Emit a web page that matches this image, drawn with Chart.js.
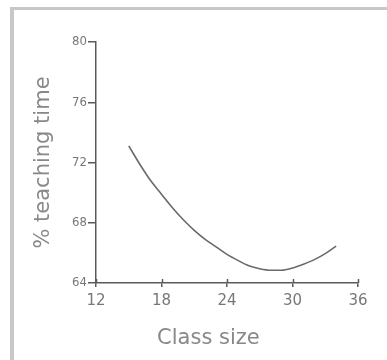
<!DOCTYPE html>
<html>
<head>
<meta charset="utf-8">
<title>% teaching time by class size</title>
<script src="https://cdn.jsdelivr.net/npm/chart.js@4/dist/chart.umd.min.js"></script>
<style>
  html, body { margin: 0; padding: 0; background: #fff; }
  #wrap { position: relative; width: 387px; height: 360px; overflow: hidden; }
  #chart { position: absolute; left: 0; top: 0; }
  #frame {
    position: absolute; left: 10px; top: 7px; width: 380px; height: 360px;
    border-top: 3px solid #c8c8c8; border-left: 4px solid #c8c8c8;
    pointer-events: none;
  }
</style>
</head>
<body>
<div id="wrap">
  <canvas id="chart" width="387" height="360"></canvas>
  <div id="frame"></div>
</div>
<script>
// Fitted curve: share of time spent teaching against class size
const classSize = [15, 16, 17, 18, 19, 20, 21, 22, 23, 24, 25, 26, 27, 28, 29, 30, 31, 32, 33, 34];
const teachingTime = [73.1, 71.9, 70.8, 69.9, 69.0, 68.2, 67.5, 66.9, 66.4, 65.9, 65.5, 65.15, 64.95, 64.85, 64.85, 65.0, 65.25, 65.55, 65.95, 66.45];

const xTicks = [12, 18, 24, 30, 36];
const yTicks = [64, 68, 72, 76, 80];

const xTitle = 'Class size';
const yTitle = '% teaching time';

const axisColor = '#5a5a5a';
const labelColor = '#777777';
const titleColor = '#888888';

const points = classSize.map((x, i) => ({ x: x, y: teachingTime[i] }));

// Tick marks on the x axis cross the axis line: draw the part inside the plot
const innerTicks = {
  id: 'innerTicks',
  afterDraw(chart) {
    const ctx = chart.ctx;
    const xs = chart.scales.x;
    ctx.save();
    ctx.strokeStyle = axisColor;
    ctx.lineWidth = 1.5;
    xTicks.forEach(v => {
      const px = Math.round(xs.getPixelForValue(v)) + 0.5;
      ctx.beginPath();
      ctx.moveTo(px, xs.top);
      ctx.lineTo(px, xs.top - 4);
      ctx.stroke();
    });
    ctx.restore();
  }
};

// x axis caption, set a little left of the axis centre
const xCaption = {
  id: 'xCaption',
  afterDraw(chart) {
    const ctx = chart.ctx;
    const xs = chart.scales.x;
    ctx.save();
    ctx.font = '21px "DejaVu Sans"';
    ctx.fillStyle = titleColor;
    ctx.textAlign = 'center';
    ctx.textBaseline = 'alphabetic';
    ctx.fillText(xTitle, xs.getPixelForValue(22.3), xs.top + 61);
    ctx.restore();
  }
};

new Chart(document.getElementById('chart'), {
  type: 'scatter',
  data: {
    datasets: [{
      data: points,
      showLine: true,
      borderColor: '#6a6a6a',
      borderWidth: 1.6,
      pointRadius: 0,
      tension: 0.4,
      cubicInterpolationMode: 'monotone',
      fill: false
    }]
  },
  options: {
    responsive: false,
    animation: false,
    events: [],
    layout: { padding: { left: 0, top: 42, right: 29, bottom: 0 } },
    plugins: { legend: { display: false }, tooltip: { enabled: false } },
    scales: {
      x: {
        type: 'linear',
        min: 12,
        max: 36,
        afterBuildTicks(scale) { scale.ticks = xTicks.map(v => ({ value: v })); },
        afterFit(scale) { scale.height = 77; },
        border: { display: true, color: axisColor, width: 1.5 },
        grid: { drawOnChartArea: false, drawTicks: true, tickLength: 4, color: axisColor, lineWidth: 1.5 },
        ticks: {
          color: labelColor,
          padding: 5,
          maxRotation: 0,
          autoSkip: false,
          font: { family: '"DejaVu Sans"', size: 15 }
        },
        title: { display: false }
      },
      y: {
        type: 'linear',
        min: 64,
        max: 80,
        afterBuildTicks(scale) { scale.ticks = yTicks.map(v => ({ value: v })); },
        afterFit(scale) { scale.width = 96; },
        border: { display: true, color: axisColor, width: 1.5 },
        grid: { drawOnChartArea: false, drawTicks: true, tickLength: 8, color: axisColor, lineWidth: 1.5 },
        ticks: {
          color: labelColor,
          padding: 1,
          autoSkip: false,
          font: { family: '"DejaVu Sans Condensed", "DejaVu Sans"', size: 13 }
        },
        title: {
          display: true,
          text: yTitle,
          color: titleColor,
          padding: { top: 31, bottom: 0 },
          font: { family: '"DejaVu Sans"', size: 21 }
        }
      }
    }
  },
  plugins: [innerTicks, xCaption]
});
</script>
</body>
</html>
